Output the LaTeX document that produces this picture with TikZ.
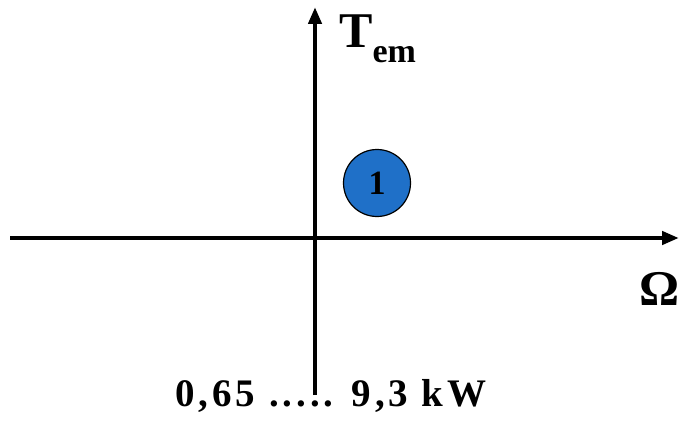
\documentclass[tikz,border=0pt]{standalone}
\usepackage{fontspec}
\setmainfont{Liberation Serif}
\usetikzlibrary{arrows.meta}
\definecolor{discblue}{RGB}{31,112,200}
\tikzset{
  axis/.style={line width=4.8pt, -{Triangle[length=17pt,width=13pt]}},
  lbl/.style={inner sep=0pt, font=\bfseries},
  disc/.style={circle, draw=black, line width=1.2pt, fill=discblue, minimum size=67pt, inner sep=0pt}
}
\begin{document}
\begin{tikzpicture}[x=1pt,y=1pt]
\useasboundingbox (0,0) rectangle (679,424);
\coordinate (hL) at (10,186);
\coordinate (hR) at (679,186);
\coordinate (vB) at (315,29);
\coordinate (vT) at (315,417);
\draw[axis] (hL) -- (hR);
\draw[axis] (vB) -- (vT);
\node[disc] (d1) at (377,241) {\fontsize{34}{34}\selectfont\bfseries 1};
\node[lbl, anchor=base west] (tem) at (339,376)
  {\fontsize{50}{50}\selectfont T\raisebox{-15pt}{\fontsize{34}{34}\selectfont em}};
\node[lbl, anchor=base west] (om) at (639,119) {\fontsize{50}{50}\selectfont Ω};
\node[lbl, anchor=base] (pw) at (331,18)
  {\fontsize{39}{39}\selectfont\addfontfeature{LetterSpace=10}0,65 ..... 9,3 kW};
\end{tikzpicture}
\end{document}
